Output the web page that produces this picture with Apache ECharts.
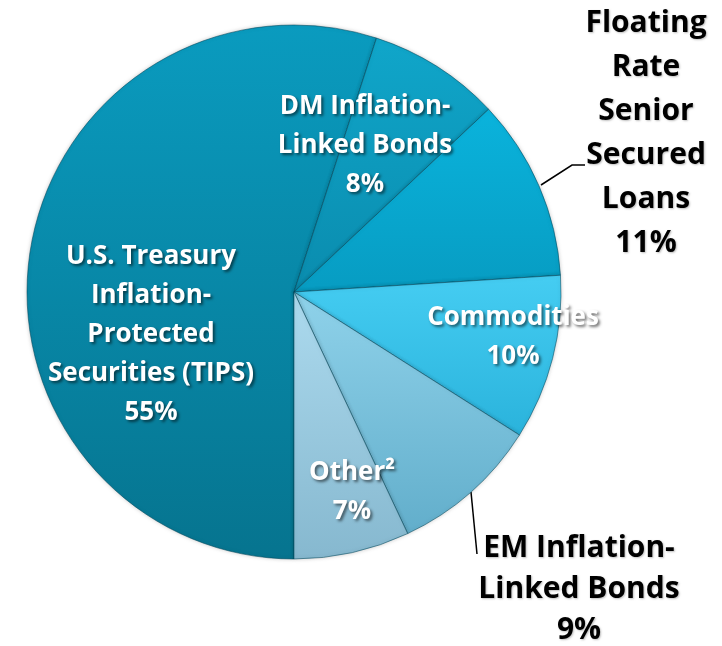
<!DOCTYPE html>
<html>
<head>
<meta charset="utf-8">
<script src="https://cdn.jsdelivr.net/npm/echarts@6/dist/echarts.min.js"></script>
<style>
  html, body { margin: 0; padding: 0; background: #fff; }
  #main { width: 722px; height: 646px; }
</style>
</head>
<body>
<div id="main"></div>
<script>
var categories = [
    'U.S. Treasury\nInflation-\nProtected\nSecurities (TIPS)',
    'DM Inflation-\nLinked Bonds',
    'Floating\nRate\nSenior\nSecured\nLoans',
    'Commodities',
    'EM Inflation-\nLinked Bonds',
    'Other\u00b2'
];
var shares = [55, 8, 11, 10, 9, 7];

// slice colours, top -> bottom of gradient
var topColors = ['#0a9bbf', '#10a6ca', '#0ab3dc', '#45cdf2', '#8fd2ea', '#acdaee'];
var bottomColors = ['#06748f', '#0a8cae', '#079cc2', '#2ab3dc', '#62aecb', '#86b8cf'];

// label anchor (centre of text block) and label lines
var labelPos = [[151, 335], [365, 146], [646, 133], [513, 337], [579, 589], [352, 492]];
var labelLines = {
    2: [[541, 185], [572, 165], [585, 165]],
    4: [[471, 492], [477, 554]]
};

var dom = document.getElementById('main');
var myChart = echarts.init(dom);

var whiteLabel = {
    show: true,
    position: 'inside',
    color: '#fff',
    fontFamily: 'Open Sans',
    fontWeight: 'bold',
    fontSize: 26,
    lineHeight: 39,
    textShadowColor: 'rgba(0,0,0,0.55)',
    textShadowBlur: 3,
    textShadowOffsetX: 2,
    textShadowOffsetY: 2,
    formatter: '{b}\n{c}%'
};
var blackLabel = {
    show: true,
    position: 'outside',
    color: '#000',
    fontFamily: 'Open Sans',
    fontWeight: 'bold',
    fontSize: 30,
    lineHeight: 44,
    align: 'center',
    textShadowColor: 'rgba(0,0,0,0.25)',
    textShadowBlur: 2,
    textShadowOffsetX: 1,
    textShadowOffsetY: 1,
    formatter: '{b}\n{c}%'
};

var data = categories.map(function (name, i) {
    var outside = labelLines[i] !== undefined;
    var lbl = outside ? Object.assign({}, blackLabel) : whiteLabel;
    if (i === 4) lbl = Object.assign({}, blackLabel, { lineHeight: 41 });
    return {
        name: name,
        value: shares[i],
        itemStyle: {
            color: new echarts.graphic.LinearGradient(0, 0, 0, 1, [
                { offset: 0, color: topColors[i] },
                { offset: 1, color: bottomColors[i] }
            ])
        },
        label: lbl,
        labelLine: { show: outside, lineStyle: { color: '#000', width: 1.5 } }
    };
});

var option = {
    animation: false,
    series: [
        {
            type: 'pie',
            center: [294, 292],
            radius: 267,
            startAngle: 270,
            clockwise: true,
            avoidLabelOverlap: false,
            itemStyle: {
                borderColor: 'rgba(0,70,90,0.55)',
                borderWidth: 1,
                shadowColor: 'rgba(0,0,0,0.2)',
                shadowBlur: 4
            },
            emphasis: { disabled: true },
            data: data,
            labelLayout: function (params) {
                var p = labelPos[params.dataIndex];
                var res = {
                    x: p[0],
                    y: p[1],
                    align: 'center',
                    verticalAlign: 'middle'
                };
                if (labelLines[params.dataIndex]) {
                    res.labelLinePoints = labelLines[params.dataIndex];
                }
                return res;
            }
        }
    ]
};

myChart.setOption(option, true);

window.addEventListener('resize', function () {
    myChart.resize();
});
</script>
</body>
</html>
